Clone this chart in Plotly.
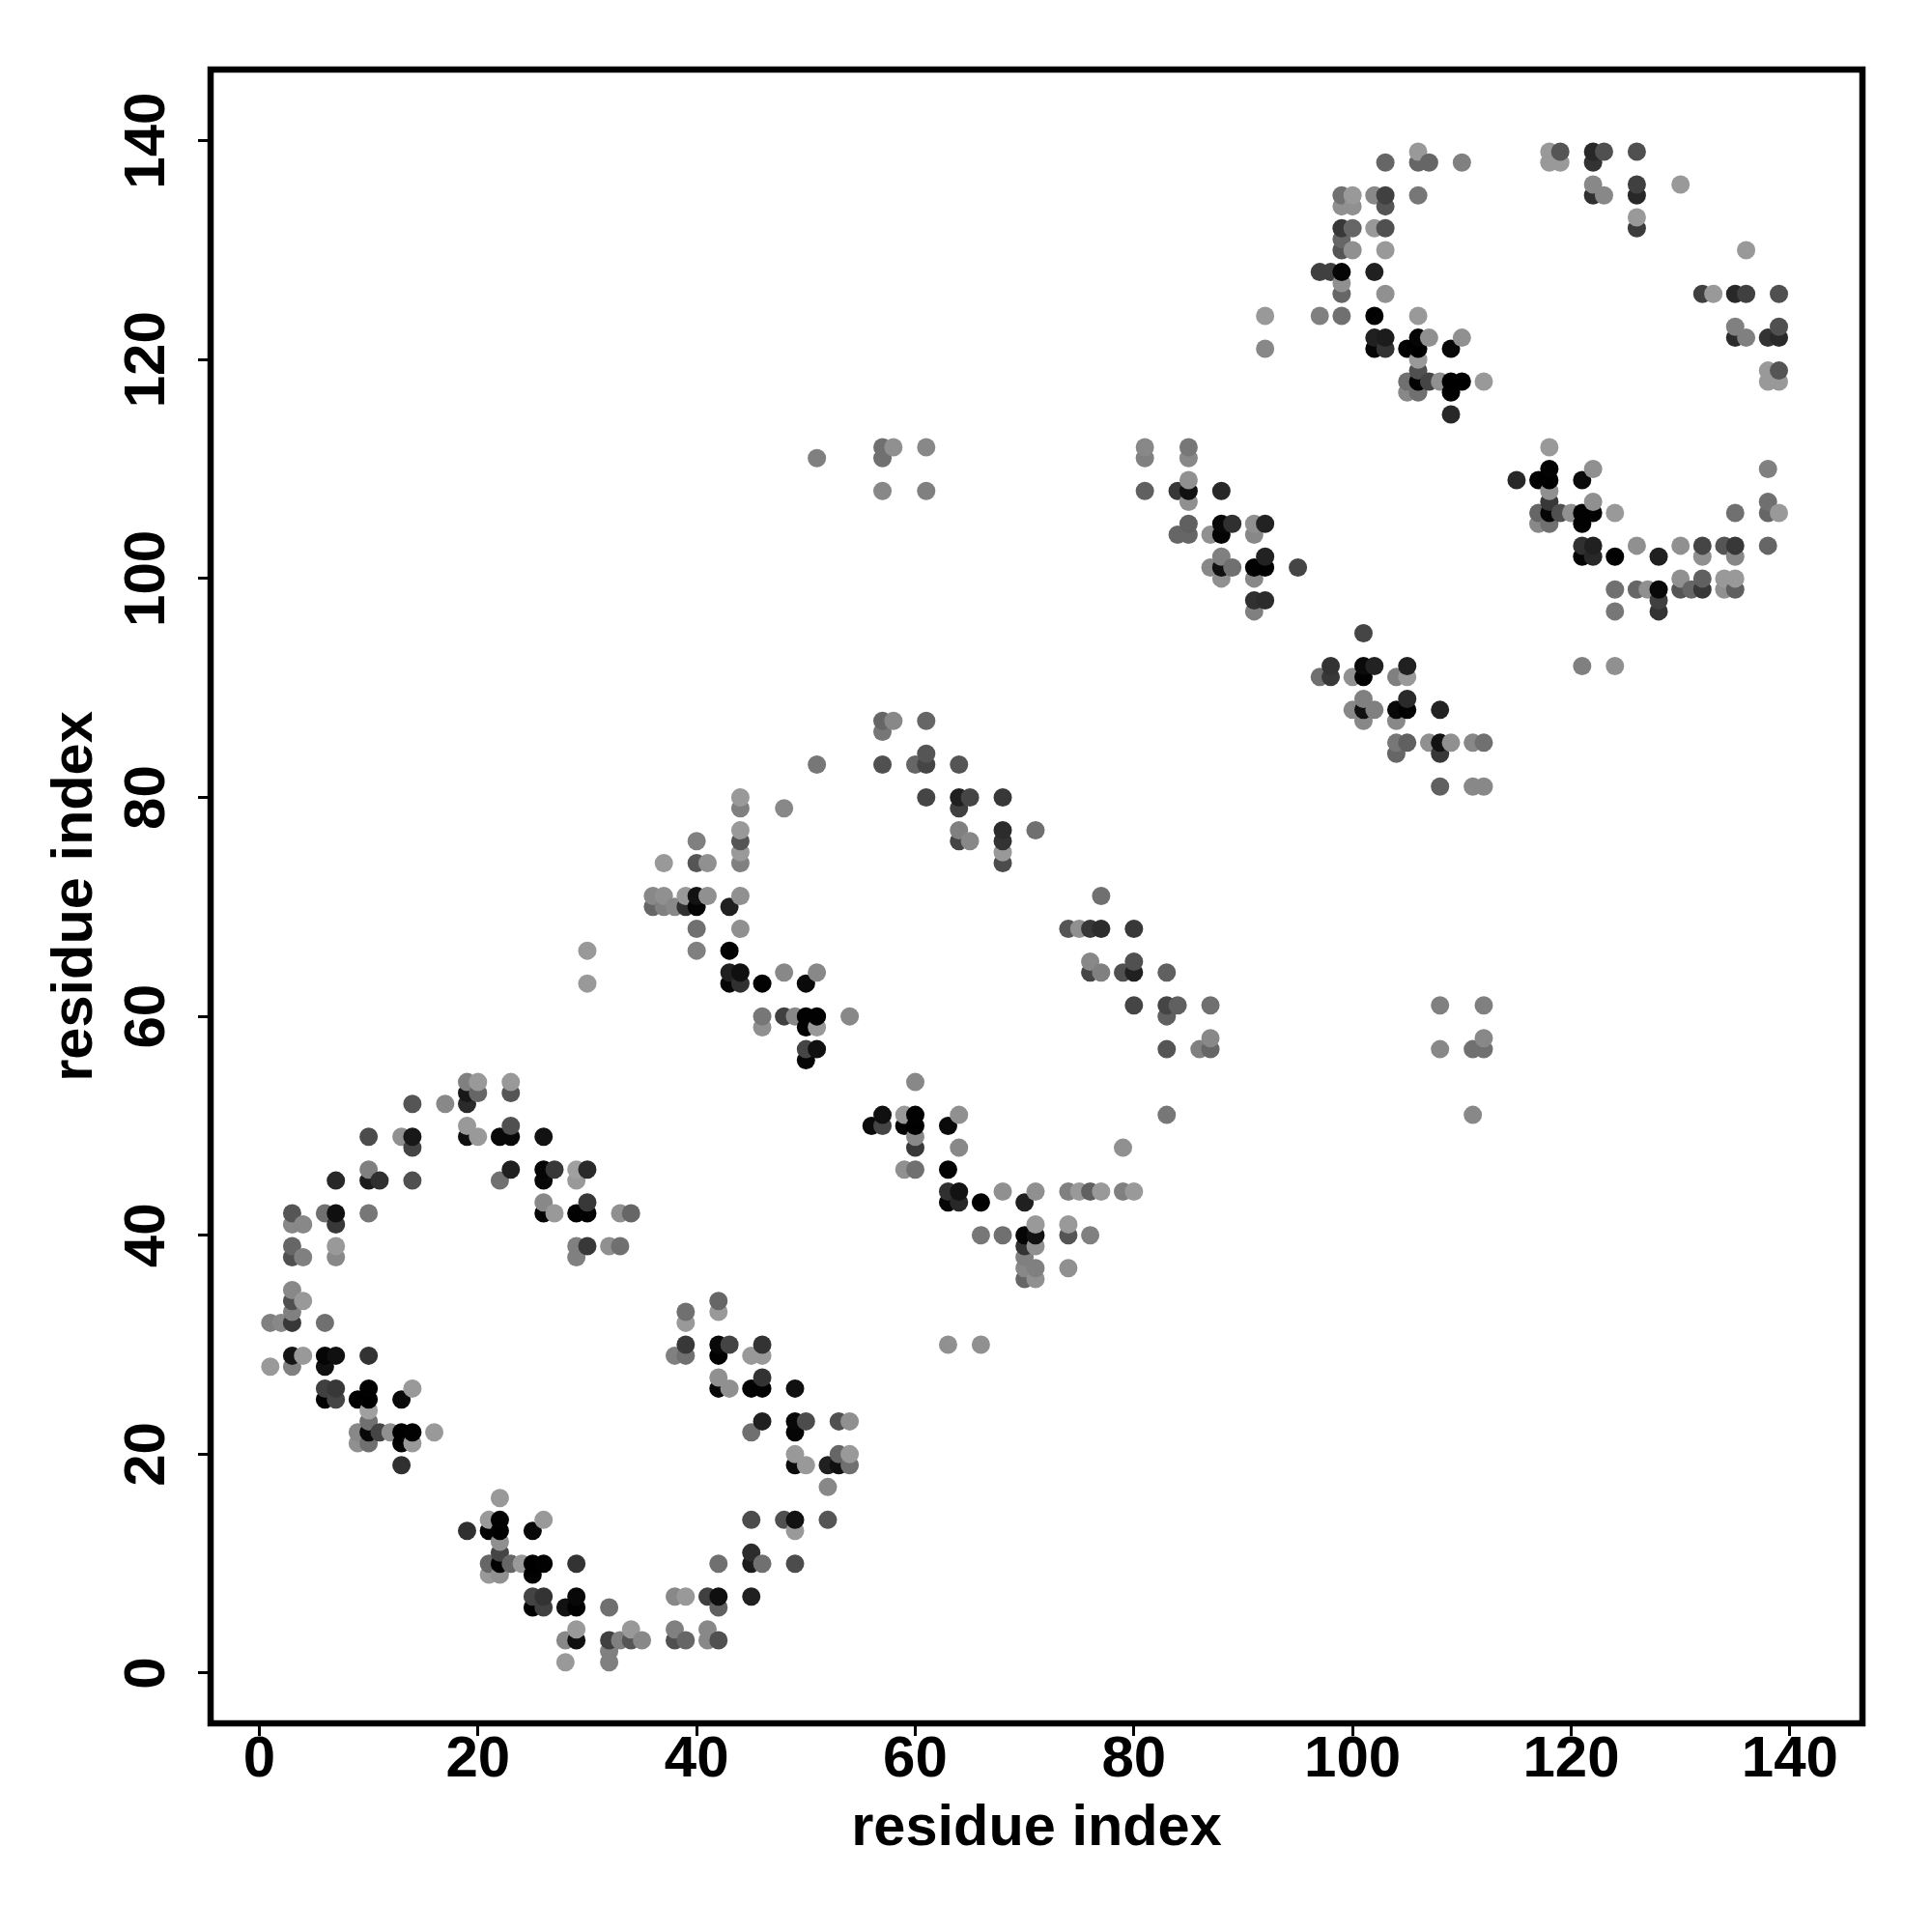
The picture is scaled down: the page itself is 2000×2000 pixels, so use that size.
import plotly.graph_objects as go

row_j = [139,138,136,135,134,133,132,131,130,128,127,126,124,123,122,121,120,119,118,117,115,
         112,111,110,109,108,107,106,105,104,103,102,101,100,99,98,97,95,92,91,89,88,87,86,85,84,83,81,80,
         79,77,76,75,74,71,70,68,66,65,64,63,61,60,59,58,57,56,54,53,52,51,50,49,48,46,45,44,43,42,41,40,
         39,38,37,36,35,34,33,32,30,29,28,27,26,25,24,23,22,21,20,19,17,16,14,13,12,11,10,9,7,6,4,3,2,1]

row_i = [
 [106,118,119,122,123,126],[103,106,107,110,118,119,122],[122,126,130],[99,100,102,103,106,122,123,126],
 [99,100,103],[126],[99,100,102,103,126],[99],[99,100,103,136],[97,98,99,102],[99],[99,103,132,133,135,136,139],
 [92,97,99,102,106],[135,139],[102,103,106,107,110,135,136,138,139],[92,102,103,105,106,109],[106],[106,138,139],
 [105,106,107,108,109,110,112,138,139],[105,106,109],[109],
 [57,58,61,81,85,118],[51,57,81,85],[118,122,138],[85,115,117,118,121],[57,61,81,84,85,88,118],[85,118,122,138],
 [117,118,119,120,121,122,124,135,138,139],[85,88,89,91,92,117,118,121],[84,85,87,88,91],
 [121,122,126,130,132,134,135,138],[88,92,121,122,124,128,132,135],[87,88,89,91,92,95],[88,91,130,132,134,135],
 [124,126,127,128,130,131,132,134,135],[91,92,128],[91,124,128],[101],[98,101,102,105,121,124],[97,98,100,101,104,105],
 [101,105],[100,101,102,104,105,108],[57,58,61,101,104],[57],[104,105,107,108,109,111,112],[61,104,108],
 [51,57,60,61,64],[108,111,112],[44,61,64,65,68],
 [44,48,64],[44,64,68,71],[40,44,64,65,68],[44,68],[37,40,41,44,68],[36,37,39,40,41,44,77],[36,37,38,39,40,43],
 [40,44,74,75,76,77,80],[30,40,43],[76,80],[43,44,48,51,76,77,79,80,83],[30,43,44,46,50],[80,83,84,87,108,112],
 [46,48,49,50,51,54,83],[46,50,51],[87,112],[50,51,83,86,87,108,111,112],[50],[19,20,23,60],[19,20,23],[14,17,19],
 [57,59,60,64,83,111],[19,23,56,57,59,60,63],[10,13,14,19,20,22,23,26,60],[14,60,64,79],
 [10,23,26,27,29,30,59,60,63],[7,10,11,14,22,26,29],[63,64,68,71,74,75,76,77,79,80],[26,30,63,64,66,70],
 [3,6,7,10,26,27,29,30,33,34],[3,4,7,71,74],[66,68,70,71,74,76],
 [3,7,29,30,32,33,70,71],[3,4,7,29,70],[70,71,74],[70,71],[3],[3,4,42],[3,39,42],[1,2,3,6,39],[39,42,43,46,63,66],
 [3,4,6,7,10,38,39,42,45,46],[1,3,6],[42,46],[6,7,10,14,42,43,45,46,49],[6,7,9,10,13],[10],[10,46,49,50,53,54],
 [9,10,11,12,13,14,16,45,49],[9,10,13,14],[49,53,54],[13,49,50,52,53,54],[52],[22],[21,22,26,45,48,49,52],
 [19,21,22,25,49],[22],[22,45],[21,22,23,24,25,26,29,42,45,46,49],[21,22,25],[25,26,29,38,39,41,42,45],
 [25,26,28,29,32,42],[29,34,38,41],[28,29,32,33,34,35,38,39,41,42],[32],[28,32],
]

row_shade = [
 [0x99,0x99,0x55,0x28,0x50,0x50],[0x66,0x66,0x66,0x80,0x99,0x99,0x33],[0x88,0x40,0x99],[0x70,0x99,0x88,0x40,0x77,0x30,0x88,0x28],
 [0x90,0x90,0x55],[0x99],[0x38,0x66,0x99,0x50,0x3c],[0x66],[0x55,0x90,0x99,0x99],[0x40,0x40,0x05,0x20],[0x90],[0x66,0x90,0x40,0x99,0x28,0x40,0x50],
 [0x99,0x80,0x70,0x02,0x99],[0x80,0x50],[0x20,0x1c,0x05,0x90,0x90,0x2c,0x80,0x33,0x2a],[0x88,0x05,0x33,0x02,0x00,0x08],[0x99],[0x50,0x99,0x55],
 [0x70,0x02,0x45,0x90,0x00,0x00,0x99,0x99,0x99],[0x88,0x70,0x02],[0x28],
 [0x70,0x90,0x88,0x88,0x77,0x99],[0x80,0x70,0x80,0x88],[0x02,0x90,0x80],[0x90,0x28,0x02,0x00,0x0a],[0x88,0x80,0x60,0x38,0x10,0x28,0x90],[0x90,0x38,0x90,0x70],
 [0x66,0x05,0x50,0x90,0x02,0x02,0x99,0x70,0x66,0x99],[0x60,0x08,0x30,0x90,0x22,0x88,0x70,0x02],[0x66,0x66,0x90,0x05,0x88],
 [0x30,0x20,0x90,0x90,0x45,0x55,0x38,0x66],[0x80,0x22,0x05,0x28,0x02,0x20,0x90,0x88],[0x88,0x10,0x70,0x02,0x02,0x45],[0x90,0x88,0x90,0x60,0x99,0x99],
 [0x70,0x66,0x90,0x08,0x55,0x66,0x38,0x90,0x60],[0x30,0x2c,0x40],[0x80,0x77,0x33],[0x45],[0x33,0x0a,0x22,0x20,0x80,0x90],[0x70,0x38,0x90,0x02,0x80,0x99],
 [0x80,0x2a],[0x88,0x10,0x80,0x08,0x02,0x22],[0x66,0x88,0x66,0x88,0x88],[0x77],[0x77,0x60,0x90,0x12,0x90,0x88,0x70],[0x55,0x66,0x38],
 [0x77,0x50,0x66,0x45,0x55],[0x60,0x88,0x88],[0x99,0x45,0x20,0x45,0x38],
 [0x80,0x88,0x40],[0x99,0x80,0x2c,0x70],[0x80,0x55,0x45,0x88,0x33],[0x99,0x99],[0x99,0x55,0x90,0x80,0x4c],[0x88,0x90,0x99,0x12,0x90,0x90,0x70],[0x66,0x80,0x88,0x30,0x05,0x20],
 [0x70,0x90,0x55,0x90,0x38,0x2c,0x38],[0x99,0x80,0x02],[0x88,0x50],[0x20,0x10,0x88,0x88,0x45,0x80,0x50,0x20,0x60],[0x99,0x05,0x30,0x02,0x0a],[0x45,0x45,0x60,0x70,0x80,0x80],
 [0x77,0x40,0x88,0x02,0x02,0x88,0x60],[0x90,0x02,0x99],[0x88,0x88],[0x45,0x10,0x55,0x80,0x66,0x88,0x70,0x70],[0x05],[0x80,0x99,0x99,0x88],[0x18,0x66,0x55],[0x55,0x88,0x2a],
 [0x10,0x99,0x02,0x90,0x77,0x88],[0x99,0x50,0x0a,0x45,0x05,0x00,0x0a],[0x4c,0x90,0x18,0x10,0x99,0x08,0x08,0x12,0x88],[0x44,0x38,0x88,0x90],
 [0x80,0x20,0x05,0x38,0xa0,0x2a,0x90,0x70,0x02],[0x28,0x1c,0x30,0x50,0x70,0x08,0x99],[0x30,0x12,0x90,0x90,0x80,0x99,0x60,0x99,0x80,0x99],[0x88,0x38,0x05,0x28,0x02,0x20],
 [0x55,0x70,0x10,0x77,0x05,0x99,0x02,0x02,0x90,0x66],[0x88,0x88,0x38,0x99,0x99],[0x77,0x70,0x05,0x12,0x55,0x80],
 [0x66,0x99,0x80,0x38,0x90,0x70,0x33,0x90],[0x50,0x80,0x88,0x80,0x80],[0x88,0x80,0x90],[0x66,0x90],[0x88],[0x50,0x99,0x66],[0x80,0x70,0x99],[0x80,0x88,0x38,0x70,0x99],[0x38,0x08,0x44,0x33,0x90,0x90],
 [0x15,0x99,0x05,0x10,0x33,0x80,0x70,0x02,0x99,0x99],[0x99,0x80,0x10],[0x90,0x33],[0x40,0x38,0x02,0x99,0x08,0x90,0x03,0x02,0x10],[0x02,0x45,0x02,0x00,0x08],[0xa0],[0x70,0x20,0x08,0x4c,0x50,0x90],
 [0x88,0x08,0x45,0x90,0x00,0x02,0x99,0x70,0x05],[0x90,0x70,0x02,0x99],[0x99,0x66,0x99],[0x30,0x0c,0x99,0x20,0x10,0x70],[0x88],[0x99],[0x99,0x02,0x99,0x4c,0x50,0x12,0x55],
 [0x30,0x02,0x00,0x08,0x99],[0x90],[0x45,0x2c],[0x66,0x02,0x66,0x99,0x00,0x02,0x33,0x70,0x1c,0x70,0x4c],[0x99,0x90,0x02],[0x44,0x33,0x08,0x88,0x99,0x40,0x0f,0x20],
 [0x02,0x40,0x12,0x02,0x70,0x60],[0x99,0x99,0x80,0x88],[0x88,0x10,0x40,0x80,0x55,0x88,0x50,0x66,0x88,0x50],[0x80],[0x99,0x80],
]

tick_vals = [0, 20, 40, 60, 80, 100, 120, 140]
axis_label = "residue index"

points = []
for j, xs, shades in zip(row_j, row_i, row_shade):
    for i, g in zip(xs, shades):
        points.append((i, j, g))
points.sort(key=lambda p: (p[0], p[1]))

fig = go.Figure(go.Scatter(
    x=[p[0] for p in points],
    y=[p[1] for p in points],
    mode="markers",
    marker=dict(size=19, color=[f"rgb({p[2]},{p[2]},{p[2]})" for p in points], line=dict(width=0)),
    showlegend=False,
))

font_family = "Liberation Sans"
axis_style = dict(
    tickmode="array", tickvals=tick_vals,
    showgrid=False, zeroline=False, showline=False,
    ticks="outside", ticklen=12, tickwidth=3, tickcolor="black",
    tickfont=dict(family=font_family, size=60, color="black", weight="bold"),
    automargin=False,
)
fig.update_xaxes(range=[-4.46, 146.64], ticklabelstandoff=-30,
                 title=dict(text=axis_label, standoff=17,
                            font=dict(family=font_family, size=59.5, color="black", weight="bold")),
                 **axis_style)
fig.update_yaxes(range=[-4.59, 146.5], tickangle=-90, ticklabelstandoff=11, ticklabelshift=9,
                 title=dict(text=axis_label, standoff=1,
                            font=dict(family=font_family, size=59.5, color="black", weight="bold")),
                 **axis_style)
fig.update_layout(
    width=2000, height=2000, autosize=False,
    margin=dict(l=209.5, r=80, t=64, b=224, pad=0),
    paper_bgcolor="white", plot_bgcolor="white",
    shapes=[dict(type="rect", xref="paper", yref="paper", x0=0, x1=1, y0=0, y1=1,
                 line=dict(color="black", width=6.5), fillcolor="rgba(0,0,0,0)")],
)
fig.write_html("out.html")
